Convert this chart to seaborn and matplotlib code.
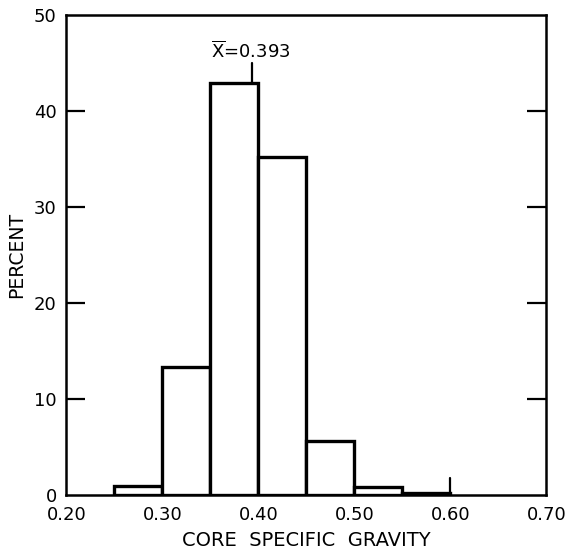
import matplotlib
matplotlib.use("Agg")
import matplotlib.pyplot as plt
import seaborn as sns
import numpy as np

# Data
bin_edges = [0.25, 0.30, 0.35, 0.40, 0.45, 0.50, 0.55, 0.60]
percent = [0.9, 13.3, 42.9, 35.2, 5.6, 0.85, 0.2]
mean_value = 0.393
x_ticks = [0.20, 0.30, 0.40, 0.50, 0.60, 0.70]
x_tick_labels = ["0.20", "0.30", "0.40", "0.50", "0.60", "0.70"]
y_ticks = [0, 10, 20, 30, 40, 50]

sns.set_theme(style="white")
plt.rcParams["font.family"] = ["DejaVu Sans"]

fig = plt.figure(figsize=(5.68, 5.51), dpi=100)
ax = fig.add_axes([0.117, 0.1016, 0.845, 0.8711])

centers = [(a + b) / 2 for a, b in zip(bin_edges[:-1], bin_edges[1:])]
sns.histplot(x=centers, weights=percent, bins=bin_edges, ax=ax,
             color="white", edgecolor="black", linewidth=2.4, alpha=1.0)

# mean marker and small tick at 0.60
ax.plot([mean_value, mean_value], [42.9, 45.0], color="black", lw=1.6)
ax.plot([0.60, 0.60], [0, 1.75], color="black", lw=1.6)
ax.text(0.392, 46.25, r"$\overline{\mathrm{X}}$=0.393", ha="center",
        va="center", fontsize=13, color="black")

ax.set_xlim(0.20, 0.70)
ax.set_ylim(0, 50)
ax.set_xticks(x_ticks)
ax.set_xticklabels(x_tick_labels)
ax.set_yticks(y_ticks)
ax.set_xlabel("CORE  SPECIFIC  GRAVITY", fontsize=14, color="black", labelpad=5)
ax.set_ylabel("PERCENT", fontsize=13.5, color="black", labelpad=6)

ax.tick_params(axis="x", length=0, labelsize=13, colors="black", pad=8)
ax.tick_params(axis="y", direction="in", length=14, width=1.6, labelsize=13,
               colors="black", left=True, right=True, pad=7)
# hide the tick marks at 0 and 50 (they sit on the frame)
yt = ax.yaxis.get_major_ticks()
for t in (yt[0], yt[-1]):
    t.tick1line.set_visible(False)
    t.tick2line.set_visible(False)

for s in ax.spines.values():
    s.set_visible(True)
    s.set_color("black")
    s.set_linewidth(1.8)

fig.savefig("out.png", dpi=100, facecolor="white")
